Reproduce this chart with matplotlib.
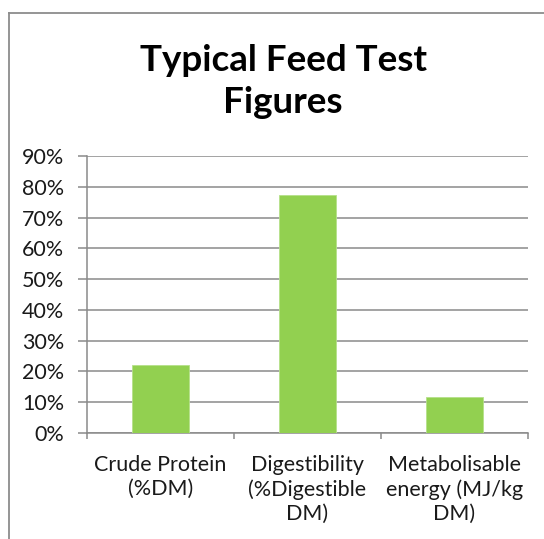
import matplotlib
matplotlib.use("Agg")
import matplotlib.pyplot as plt
from matplotlib.lines import Line2D
from matplotlib.ticker import MultipleLocator, FuncFormatter

# Data
categories = ["Crude Protein\n(%DM)", "Digestibility\n(%Digestible\nDM)", "Metabolisable\nenergy (MJ/kg\nDM)"]
values = [0.221, 0.774, 0.116]

plt.rcParams['font.family'] = ['Lato', 'DejaVu Sans']

fig = plt.figure(figsize=(5.44, 5.39), dpi=100)
ax = fig.add_axes([87 / 544, 1 - 433 / 539, (528 - 87) / 544, (433 - 156) / 539])

x = list(range(len(categories)))
ax.bar(x, values, width=0.39, color="#92D050", edgecolor="#b5e08a", linewidth=0.6, zorder=3)

ax.set_xlim(-0.5, len(categories) - 0.5)
ax.set_ylim(0, 0.9)
ax.yaxis.set_major_locator(MultipleLocator(0.1))
ax.yaxis.set_major_formatter(FuncFormatter(lambda v, p: f"{v * 100:.0f}%"))
ax.grid(axis="y", color="#8a8a8a", linewidth=1.1, zorder=0)

# category ticks sit at the boundaries, labels in the middle
ax.set_xticks([i - 0.5 for i in range(len(categories) + 1)])
ax.set_xticklabels([])
ax.set_xticks(x, minor=True)
ax.set_xticklabels(categories, minor=True, fontsize=15.5, color="#1a1a1a", linespacing=1.25)
ax.tick_params(axis="x", which="major", length=4, width=1.1, color="#8a8a8a", direction="out")
ax.tick_params(axis="x", which="minor", length=0, pad=16)
ax.tick_params(axis="y", length=6.5, width=1.1, color="#8a8a8a", pad=10, labelsize=15.5, labelcolor="#1a1a1a")

for side in ["top", "right"]:
    ax.spines[side].set_visible(False)
ax.spines["left"].set_color("#8a8a8a")
ax.spines["bottom"].set_color("#8a8a8a")
ax.spines["left"].set_linewidth(1.1)
ax.spines["bottom"].set_linewidth(1.1)

fig.text(283 / 544, 0.849, "Typical Feed Test\nFigures", ha="center", va="center",
         fontsize=26.5, fontweight="bold", linespacing=1.35)

# outer chart frame (only left and top visible in the crop)
fig.add_artist(Line2D([9 / 544, 9 / 544], [0, 1 - 13 / 539], transform=fig.transFigure, color="#8c8c8c", lw=1.3))
fig.add_artist(Line2D([9 / 544, 1], [1 - 13 / 539, 1 - 13 / 539], transform=fig.transFigure, color="#8c8c8c", lw=1.3))

fig.savefig("out.png", dpi=100)
